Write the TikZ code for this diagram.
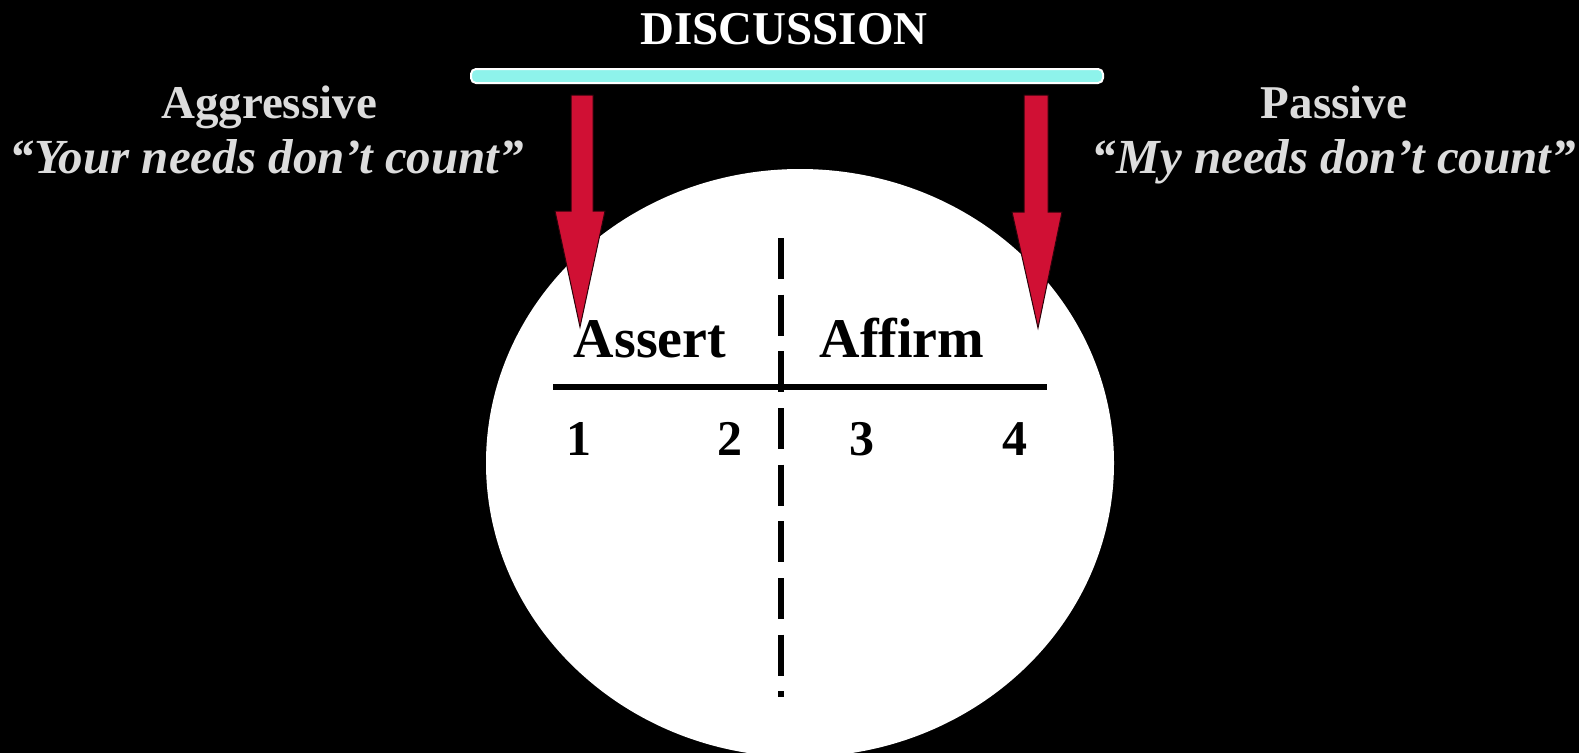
\documentclass[tikz,border=0pt]{standalone}
\usepackage{fontspec}
\setmainfont{Liberation Serif}
\definecolor{bgblack}{RGB}{0,0,0}
\definecolor{lightgray}{RGB}{220,220,220}
\definecolor{barcyan}{RGB}{142,243,235}
\definecolor{arrowred}{RGB}{208,16,52}
\begin{document}
\begin{tikzpicture}[x=1pt,y=-1pt,
  graytext/.style={text=lightgray,font=\fontsize{47}{56}\selectfont\bfseries,inner sep=0pt,anchor=base},
  grayital/.style={text=lightgray,font=\fontsize{49}{58}\selectfont\bfseries\itshape,inner sep=0pt,anchor=base},
  blacktext/.style={text=black,font=\fontsize{56}{64}\selectfont\bfseries,inner sep=0pt,anchor=base},
  numtext/.style={text=black,font=\fontsize{50}{58}\selectfont\bfseries,inner sep=0pt,anchor=base},
  redarrow/.style={fill=arrowred,draw=black!80!arrowred,line width=1pt,line join=miter}]
\useasboundingbox (0,0) rectangle (1579,753);
\fill[bgblack] (0,0) rectangle (1579,753);
\begin{scope}
\clip (0,0) rectangle (1579,753);
\fill[white] (800,463) ellipse [x radius=314, y radius=294];
\end{scope}
% title and bar
\node[graytext,text=white] (title) at (784,44) {DISCUSSION};
\draw[fill=barcyan,draw=white,line width=2pt,rounded corners=5pt] (471,69) rectangle (1103,83);
% side labels
\node[graytext] (aggr) at (269,118) {Aggressive};
\node[grayital] (aggrq) at (267,173) {“Your needs don’t count”};
\node[graytext] (pass) at (1334,118) {Passive};
\node[grayital] (passq) at (1334,173) {“My needs don’t count”};
% arrows
\draw[redarrow] (571,95) -- (593,95) -- (593,211) -- (605,211) -- (580,327) -- (555,211) -- (571,211) -- cycle;
\draw[redarrow] (1024,95) -- (1048,95) -- (1048,212) -- (1062,212) -- (1038,328) -- (1012,212) -- (1024,212) -- cycle;
% dividing lines
\draw[black,line width=6pt,dash pattern=on 41pt off 15.67pt] (781,238) -- (781,697);
\draw[black,line width=6pt] (553,387) -- (1047,387);
% texts in circle
\node[blacktext] (assert) at (650,357) {Assert};
\node[blacktext] (affirm) at (902,357) {Affirm};
\node[numtext] (n1) at (579,455) {1};
\node[numtext] (n2) at (730,455) {2};
\node[numtext] (n3) at (862,455) {3};
\node[numtext] (n4) at (1015,455) {4};
\end{tikzpicture}
\end{document}
